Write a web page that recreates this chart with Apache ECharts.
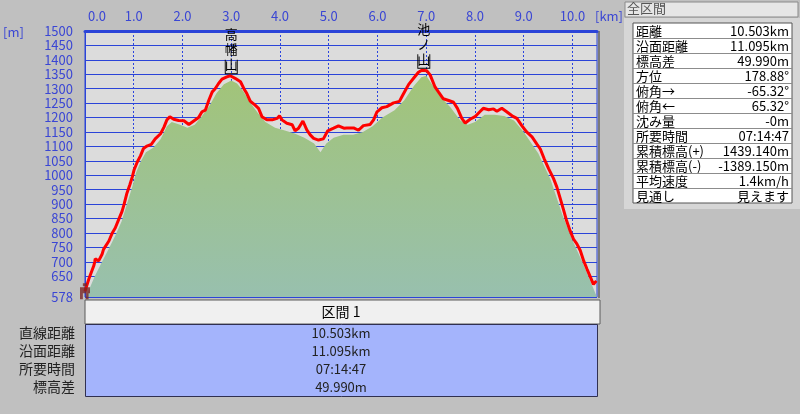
<!DOCTYPE html>
<html>
<head>
<meta charset="utf-8">
<script src="https://cdn.jsdelivr.net/npm/echarts@6/dist/echarts.min.js"></script>
<style>
html,body{margin:0;padding:0;background:#c0c0c0;}
#c{width:800px;height:414px;}
</style>
</head>
<body>
<div id="c"></div>
<script>
// ---- data ----
const trackKm = [0.00,0.08,0.18,0.20,0.21,0.28,0.35,0.38,0.49,0.56,0.62,0.69,0.76,0.80,0.86,0.92,0.97,1.01,1.07,1.14,1.20,1.27,1.36,1.44,1.55,1.62,1.68,1.74,1.82,1.92,2.03,2.13,2.23,2.33,2.40,2.47,2.54,2.61,2.67,2.74,2.81,2.91,2.98,3.08,3.19,3.26,3.32,3.39,3.49,3.56,3.63,3.73,3.84,3.94,3.99,4.04,4.14,4.25,4.31,4.38,4.47,4.55,4.62,4.69,4.79,4.89,4.98,5.10,5.20,5.31,5.37,5.51,5.61,5.71,5.85,5.92,5.99,6.09,6.19,6.33,6.45,6.50,6.57,6.64,6.74,6.84,6.91,7.01,7.08,7.18,7.25,7.35,7.46,7.56,7.64,7.73,7.80,7.90,8.00,8.11,8.17,8.28,8.38,8.45,8.55,8.65,8.76,8.86,8.96,9.06,9.17,9.27,9.34,9.42,9.51,9.61,9.68,9.75,9.82,9.88,9.95,10.02,10.09,10.16,10.23,10.30,10.37,10.43,10.49];
const trackM  = [598,641,686,700,711,703,726,743,772,800,817,846,875,898,938,967,994,1020,1045,1068,1093,1101,1107,1126,1144,1167,1192,1203,1194,1190,1189,1176,1188,1200,1220,1226,1260,1289,1300,1318,1333,1341,1345,1336,1324,1300,1283,1257,1243,1232,1203,1192,1192,1197,1206,1192,1180,1175,1154,1163,1188,1157,1140,1128,1122,1126,1154,1163,1171,1163,1164,1164,1156,1172,1176,1192,1220,1234,1238,1251,1256,1272,1294,1315,1336,1357,1364,1362,1348,1306,1289,1265,1259,1253,1232,1197,1181,1194,1203,1222,1232,1227,1230,1222,1232,1220,1206,1197,1172,1150,1133,1108,1091,1057,1023,989,959,919,878,842,808,779,762,739,703,674,646,622,634];

const groundKm = [0.03,0.05,0.20,0.35,0.50,0.62,0.75,0.86,0.97,1.05,1.15,1.25,1.40,1.55,1.68,1.78,1.95,2.10,2.25,2.40,2.55,2.70,2.85,3.00,3.12,3.25,3.40,3.55,3.70,3.90,4.10,4.30,4.50,4.70,4.83,4.95,5.10,5.30,5.50,5.70,5.90,6.10,6.35,6.55,6.75,6.90,7.00,7.10,7.30,7.50,7.70,7.85,8.00,8.20,8.40,8.60,8.80,9.00,9.30,9.55,9.80,10.00,10.20,10.40,10.50];
const groundM  = [578,590,650,700,750,790,840,900,960,1010,1050,1080,1095,1125,1170,1185,1175,1165,1175,1205,1240,1285,1315,1328,1318,1290,1250,1215,1185,1165,1155,1145,1130,1110,1080,1110,1130,1140,1140,1150,1170,1200,1225,1260,1310,1340,1345,1320,1270,1235,1190,1175,1185,1210,1210,1205,1190,1150,1075,985,860,775,700,620,578];

const peakNames = ['高幡山','池ノ山'];
const peakKm = [3.00, 6.95];
const peakM = [1345, 1364];
const startKm = 0.0, startM = 598;

const xTicks = [0,1,2,3,4,5,6,7,8,9,10];
const yTicks = [578,650,700,750,800,850,900,950,1000,1050,1100,1150,1200,1250,1300,1350,1400,1450,1500];
const xMin = 0, xMax = 10.503, yMin = 578, yMax = 1500;

const summaryLabels = ['距離','沿面距離','標高差','方位','俯角→','俯角←','沈み量','所要時間','累積標高(+)','累積標高(-)','平均速度','見通し'];
const summaryValues = ['10.503km','11.095km','49.990m','178.88°','-65.32°','65.32°','-0m','07:14:47','1439.140m','-1389.150m','1.4km/h','見えます'];
const sectionTitle = '区間 1';
const sectionLabels = ['直線距離','沿面距離','所要時間','標高差'];
const sectionValues = ['10.503km','11.095km','07:14:47','49.990m'];

// ---- chart ----
const FONT = '"Noto Sans CJK JP", sans-serif';
const BLUE = '#3a46d4';
const chart = echarts.init(document.getElementById('c'));

const track = trackKm.map((k, i) => [k, trackM[i]]);
const ground = groundKm.map((k, i) => [k, groundM[i]]);

const graphics = [];
// right summary panel
graphics.push({type:'rect', shape:{x:624, y:18, width:176, height:191}, style:{fill:'#d6d6d6'}});
graphics.push({type:'rect', shape:{x:625, y:2, width:173, height:15}, style:{fill:'#e6e6e6', stroke:'#8a8a8a', lineWidth:1}});
graphics.push({type:'text', left:627, top:2, style:{text:'全区間', fill:'#555', font:'13px ' + FONT}});
const tx = 633, ty = 23, tw = 159, rh = 15;
graphics.push({type:'rect', shape:{x:tx, y:ty, width:tw, height:rh*summaryLabels.length}, style:{fill:'#ffffff', stroke:'#555', lineWidth:1}});
summaryLabels.forEach((lab, i) => {
  const y = ty + i*rh;
  if (i > 0) graphics.push({type:'line', shape:{x1:tx, y1:y+0.5, x2:tx+tw, y2:y+0.5}, style:{stroke:'#8c8c8c', lineWidth:1}});
  graphics.push({type:'text', x:tx+3, y:y+rh/2+0.5, style:{text:lab, fill:'#000', font:'13px ' + FONT, verticalAlign:'middle'}});
  graphics.push({type:'text', x:tx+tw-3, y:y+rh/2+0.5, style:{text:summaryValues[i], fill:'#000', font:'13px ' + FONT, align:'right', verticalAlign:'middle'}});
});
// unit labels
graphics.push({type:'text', x:3, y:32, style:{text:'[m]', fill:BLUE, font:'13px ' + FONT, verticalAlign:'middle'}});
graphics.push({type:'text', x:623, y:16, style:{text:'[km]', fill:BLUE, font:'13px ' + FONT, align:'right', verticalAlign:'middle'}});
// right shadow of plot
graphics.push({type:'rect', shape:{x:598, y:31, width:2, height:267}, style:{fill:'#7a7a7a'}});

// bottom section table
graphics.push({type:'rect', shape:{x:85, y:300, width:515, height:24}, style:{fill:'#f0f0f0', stroke:'#5a5a5a', lineWidth:1}});
graphics.push({type:'text', x:341, y:312, style:{text:sectionTitle, fill:'#000', font:'14px ' + FONT, align:'center', verticalAlign:'middle'}});
graphics.push({type:'rect', shape:{x:85.5, y:324.5, width:512, height:72}, style:{fill:'#a4b4fc', stroke:'#303050', lineWidth:1}});
sectionLabels.forEach((lab, i) => {
  const y = 333 + i*18;
  graphics.push({type:'text', x:75, y:y, style:{text:lab, fill:'#222', font:'14px ' + FONT, align:'right', verticalAlign:'middle'}});
  graphics.push({type:'text', x:341, y:y, style:{text:sectionValues[i], fill:'#222', font:'13px ' + FONT, align:'center', verticalAlign:'middle'}});
});

const option = {
  backgroundColor: '#c0c0c0',
  animation: false,
  grid: {left:85, right:203, top:31, bottom:117, show:true, backgroundColor:'#dcdcdc', borderColor:'#2b44d8', borderWidth:1},
  xAxis: {
    type:'value', position:'top', min:xMin, max:xMax,
    axisLine:{show:true, onZero:false, lineStyle:{color:'#2b44d8', width:3}},
    axisTick:{show:false, customValues:xTicks},
    axisLabel:{customValues:xTicks, color:BLUE, fontFamily:FONT, fontSize:13, margin:8,
      formatter:(v)=> v === 0 ? '{z|0.0}' : v.toFixed(1),
      rich:{z:{color:BLUE, fontFamily:FONT, fontSize:13, padding:[0,0,0,24]}}},
    splitLine:{show:true, lineStyle:{color:'#2b44e0', type:[2,2], width:1}}
  },
  yAxis: {
    type:'value', min:yMin, max:yMax,
    axisLine:{show:true, onZero:false, lineStyle:{color:'#2b44d8', width:1}},
    axisTick:{show:false, customValues:yTicks},
    axisLabel:{customValues:yTicks, color:BLUE, fontFamily:FONT, fontSize:13, margin:12,
      formatter:(v)=> String(v)},
    splitLine:{show:true, lineStyle:{color:'#2b44d8', width:1}}
  },
  series: [
    {
      type:'line', data:ground, showSymbol:false, silent:true, z:1,
      lineStyle:{width:0},
      areaStyle:{origin:'start', opacity:1, color:new echarts.graphic.LinearGradient(0,0,0,1,[{offset:0,color:'#a2c478'},{offset:1,color:'#98c0ae'}])}
    },
    {
      type:'line', data:track, showSymbol:false, z:3,
      lineStyle:{color:'#ff0000', width:3},
      markPoint:{
        symbol:'path://M0,0 L0,12 L12,12 L12,0', symbolSize:[12,14], symbolOffset:[0,-9],
        itemStyle:{color:'none', borderColor:'#000', borderWidth:1},
        label:{show:true, position:'top', distance:-15, color:'#000', fontFamily:FONT, fontSize:13, lineHeight:15,
          formatter:(p)=> p.name.split('').join('\n')},
        data: peakNames.map((n, i) => ({name:n, coord:[peakKm[i], peakM[i]]}))
      }
    },
    {
      type:'scatter', z:5, silent:true,
      data:[[startKm, startM]],
      symbol:'path://M4,0 L7,0 L7,3 L4,3 Z M2,4 L9,4 L9,10 L2,10 Z M2,10 L4,10 L4,16 L2,16 Z M6,10 L8,10 L8,16 L6,16 Z',
      symbolSize:[10,16],
      itemStyle:{color:'#7a2626'}
    }
  ],
  graphic: graphics
};
chart.setOption(option);
</script>
</body>
</html>
